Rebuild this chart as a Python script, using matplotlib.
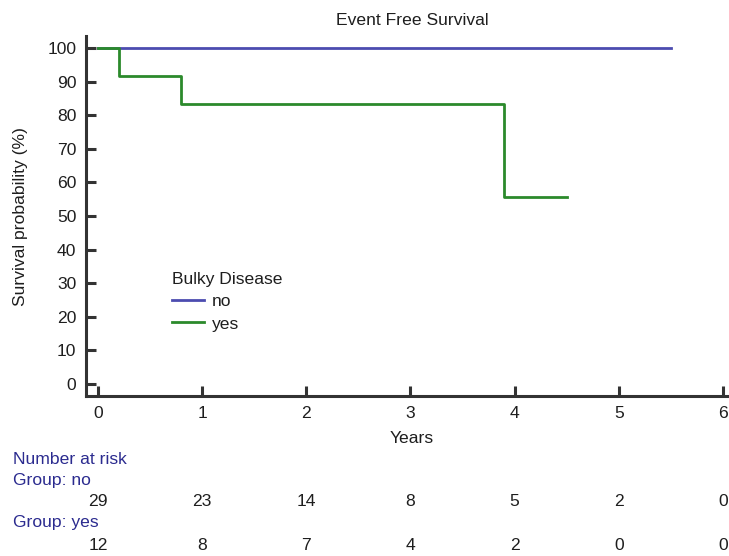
import matplotlib
matplotlib.use("Agg")
import matplotlib.pyplot as plt
from matplotlib.transforms import blended_transform_factory

plt.rcParams['font.family'] = ['Liberation Sans', 'DejaVu Sans']

# Kaplan-Meier step data (years, survival %)
no_times = [0, 5.5]
no_surv = [100, 100]
yes_times = [0, 0.2, 0.8, 3.9, 4.5]
yes_surv = [100, 91.7, 83.3, 55.6, 55.6]

risk_times = [0, 1, 2, 3, 4, 5, 6]
risk_no = [29, 23, 14, 8, 5, 2, 0]
risk_yes = [12, 8, 7, 4, 2, 0, 0]

blue = '#4c4cb0'
green = '#2b8a2b'
navy = '#2b2b8f'
spine_c = '#333333'
txt_c = '#1e1e1e'
FS = 12.6

W, H = 729, 556
fig = plt.figure(figsize=(W / 100, H / 100), dpi=100)
ax = fig.add_axes([86 / W, 1 - 396 / H, (727 - 86) / W, (396 - 36) / H])

ax.step(no_times, no_surv, where='post', color=blue, lw=2.0, label='no')
ax.step(yes_times, yes_surv, where='post', color=green, lw=2.0, label='yes')

ax.set_xlim(-0.115, 6.04)
ax.set_ylim(-3.6, 103.6)
ax.set_xticks(range(0, 7))
ax.set_yticks(range(0, 101, 10))
for s in ['top', 'right']:
    ax.spines[s].set_visible(False)
for s in ['left', 'bottom']:
    ax.spines[s].set_color(spine_c)
    ax.spines[s].set_linewidth(2.2)
ax.tick_params(direction='in', length=7, width=2.2, color=spine_c,
               labelsize=FS, labelcolor=txt_c, pad=7)

ax.set_title('Event Free Survival', fontsize=FS, color=txt_c, pad=8,
             x=(412 - 86) / (727 - 86))
ax.set_xlabel('Years', fontsize=FS, color=txt_c)
ax.xaxis.set_label_coords((412 - 86) / (727 - 86), -(431 - 396) / 360)
ax.xaxis.label.set_va('top')
ax.set_ylabel('Survival probability (%)', fontsize=FS, color=txt_c)
ax.yaxis.set_label_coords(-(86 - 28) / (727 - 86), 0.5)

leg = ax.legend(title='Bulky Disease', loc='upper left',
                bbox_to_anchor=((172 - 86) / (727 - 86), (396 - 272) / 360),
                frameon=False, fontsize=FS, title_fontsize=FS,
                handlelength=1.85, handletextpad=0.45, labelspacing=0.4,
                borderpad=0, borderaxespad=0, alignment='left')
for t in leg.get_texts():
    t.set_color(txt_c)
leg.get_title().set_color(txt_c)

# Number-at-risk table below the axes
trans = blended_transform_factory(ax.transData, fig.transFigure)
def fy(py):
    return 1 - py / H

fig.text(13 / W, fy(459), 'Number at risk', color=navy, fontsize=FS, va='center')
fig.text(13 / W, fy(480), 'Group: no', color=navy, fontsize=FS, va='center')
fig.text(13 / W, fy(522), 'Group: yes', color=navy, fontsize=FS, va='center')
for t, n in zip(risk_times, risk_no):
    ax.text(t, fy(502), str(n), transform=trans, ha='center', va='center',
            fontsize=FS, color=txt_c, clip_on=False)
for t, n in zip(risk_times, risk_yes):
    ax.text(t, fy(545), str(n), transform=trans, ha='center', va='center',
            fontsize=FS, color=txt_c, clip_on=False)

fig.savefig('out.png', dpi=100)
